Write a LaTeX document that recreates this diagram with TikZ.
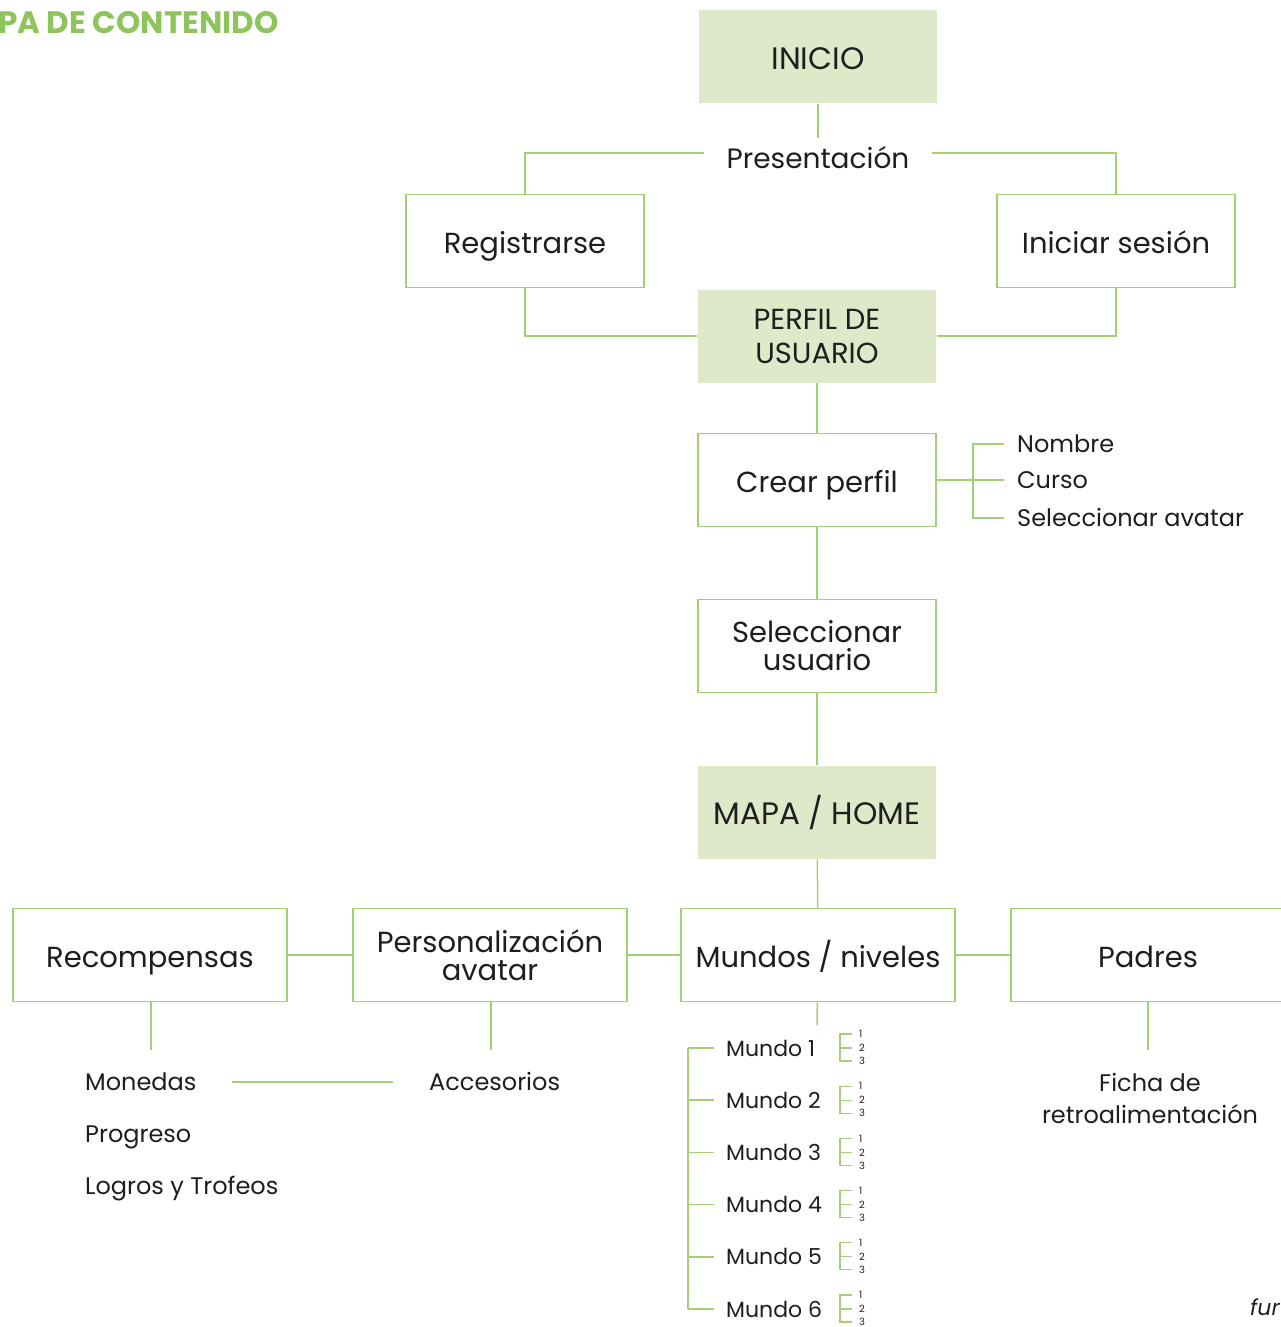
\documentclass[tikz,border=0pt]{standalone}
\usepackage{fontspec}
\setmainfont{Poppins}
\usetikzlibrary{positioning}
\definecolor{verde}{HTML}{A3CF78}
\definecolor{verdefondo}{HTML}{DDE9C8}
\definecolor{verdetitulo}{HTML}{8DC45B}
\definecolor{texto}{HTML}{1E1E1E}
\tikzset{
	caja/.style={draw=verde, line width=1.5pt, fill=white, minimum width=238pt, minimum height=93pt,
		align=center, inner sep=0pt, text=texto, font=\fontsize{29}{27}\selectfont},
	cajaverde/.style={caja, draw=none, fill=verdefondo},
	ancha/.style={caja, minimum width=274pt},
	unalinea/.style={text height=26pt, text depth=1pt},
	item/.style={anchor=west, inner sep=0pt, text=texto, text height=17pt, text depth=1pt, font=\fontsize{24}{26}\selectfont},
	mundo/.style={item, font=\fontsize{22}{24}\selectfont},
	nivel/.style={anchor=west, inner sep=0pt, text=texto, font=\fontsize{10}{10}\selectfont},
	linea/.style={draw=verde, line width=1.5pt},
	lineafina/.style={draw=verde, line width=1.2pt},
}
\begin{document}
\begin{tikzpicture}[x=1pt,y=-1pt]
	\useasboundingbox (0,0) rectangle (1280,1327);
	% titulo y pie
	\node[anchor=west, inner sep=0pt, text=verdetitulo, font=\fontsize{31}{32}\selectfont\bfseries] (titulo) at (-2,23) {PA DE CONTENIDO};
	\node[anchor=west, inner sep=0pt, text=texto, font=\fontsize{22}{22}\selectfont\itshape] (pie) at (1250,1307) {fur};

	% inicio
	\node[cajaverde, unalinea, font=\fontsize{31}{30}\selectfont] (inicio) at (818,57) {INICIO};
	\node[inner xsep=22pt, inner ysep=9pt, text=texto, font=\fontsize{28}{26}\selectfont] (pres) at (818,158) {Presentación};
	\node[caja, unalinea] (reg) at (525,241) {Registrarse};
	\node[caja, unalinea] (ini) at (1116,241) {Iniciar sesión};
	\node[cajaverde, font=\fontsize{29}{34}\selectfont] (perfil) at (817,336) {PERFIL DE\\USUARIO};

	\draw[linea] (inicio) -- (pres);
	\draw[linea] ([yshift=5pt]pres.west) -| (reg.north);
	\draw[linea] ([yshift=5pt]pres.east) -| (ini.north);
	\draw[linea] (reg.south) |- (perfil.west);
	\draw[linea] (ini.south) |- (perfil.east);

	% perfil
	\node[caja, unalinea] (crear) at (817,480) {Crear perfil};
	\node[caja, font=\fontsize{29}{28}\selectfont] (selusr) at (817,646) {Seleccionar\\usuario};
	\node[cajaverde, unalinea, font=\fontsize{31}{30}\selectfont] (mapa) at (817,812) {MAPA / HOME};
	\draw[linea] (perfil) -- (crear);
	\draw[linea] (crear) -- (selusr);
	\draw[linea] (selusr) -- (mapa);

	\node[item] (nombre) at (1017,444) {Nombre};
	\node[item] (curso) at (1017,480) {Curso};
	\node[item] (selav) at (1017,518) {Seleccionar avatar};
	\coordinate (brk) at (973,480);
	\draw[linea] (crear.east) -- (brk);
	\draw[linea] ([xshift=-13pt]nombre.west) -| (brk) |- ([xshift=-13pt]selav.west);
	\draw[linea] (brk) -- ([xshift=-13pt]curso.west);

	% fila de secciones
	\node[ancha, unalinea] (recomp) at (150,955) {Recompensas};
	\node[ancha, font=\fontsize{29}{28}\selectfont] (perso) at (490,955) {Personalización\\avatar};
	\node[ancha, unalinea] (mundos) at (818,955) {Mundos / niveles};
	\node[ancha, unalinea] (padres) at (1148,955) {Padres};
	\draw[linea] (mapa) -- (mundos);
	\draw[linea] (recomp) -- (perso);
	\draw[linea] (perso) -- (mundos);
	\draw[linea] (mundos) -- (padres);

	% recompensas y avatar
	\coordinate (recfin) at (151,1050);
	\coordinate (perfin) at (491,1050);
	\draw[linea] (recomp.south -| recfin) -- (recfin);
	\draw[linea] (perso.south -| perfin) -- (perfin);
	\node[item] (monedas) at (85,1082) {Monedas};
	\node[item] (progreso) at (85,1134) {Progreso};
	\node[item] (logros) at (85,1186) {Logros y Trofeos};
	\node[item] (acces) at (429,1082) {Accesorios};
	\draw[linea] ([xshift=35pt]monedas.east) -- ([xshift=-36pt]acces.west);

	% padres
	\coordinate (padfin) at (1148,1050);
	\draw[linea] (padres.south -| padfin) -- (padfin);
	\node[align=center, inner sep=0pt, text=texto, font=\fontsize{24}{32}\selectfont] (ficha) at (1150,1098) {Ficha de\\retroalimentación};

	% mundos
	\coordinate (mundofin) at (817,1025);
	\draw[linea] (mundos) -- (mundofin);
	\coordinate (eje) at (688,1048);
	\foreach \i in {1,...,6} {
		\pgfmathsetmacro{\yy}{1048+(\i-1)*52.2}
		\node[mundo] (mundo\i) at (726,\yy) {Mundo \i};
		\draw[linea] (mundo\i.west -| eje) -- ([xshift=-12pt]mundo\i.west);
		\coordinate (sub\i) at (840,\yy);
		\node[nivel] (niv\i-1) at (859,\yy-14) {1};
		\node[nivel] (niv\i-2) at (859,\yy) {2};
		\node[nivel] (niv\i-3) at (859,\yy+13) {3};
		\draw[lineafina] ([xshift=-7pt]niv\i-1.west) -| (sub\i) |- ([xshift=-7pt]niv\i-3.west);
		\draw[lineafina] (sub\i) -- ([xshift=-7pt]niv\i-2.west);
	}
	\draw[linea] (mundo1.west -| eje) -- (mundo6.west -| eje);
\end{tikzpicture}
\end{document}
